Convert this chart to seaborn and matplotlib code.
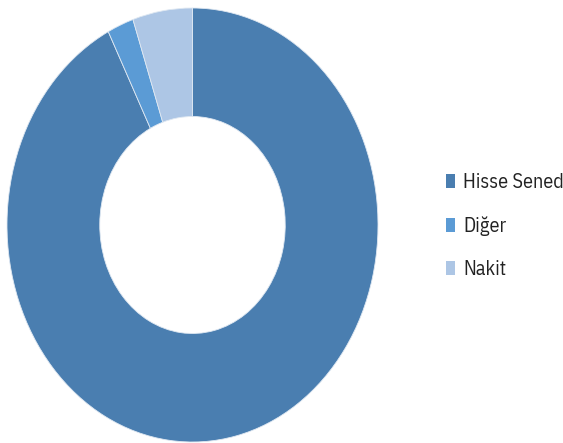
import matplotlib
matplotlib.use("Agg")
import matplotlib.pyplot as plt
import seaborn as sns
from matplotlib.patches import Patch

# portfolio split (percent)
labels = ["Hisse Sened", "Diğer", "Nakit"]
shares = [92.5, 2.3, 5.2]
colors = ["#4A7EB0", "#5B9BD5", "#ADC6E5"]

sns.set_theme(style="white")
plt.rcParams["font.family"] = ["IBM Plex Sans Condensed", "DejaVu Sans"]

fig = plt.figure(figsize=(5.63, 4.43), dpi=100)
# donut is drawn as a stretched ellipse, so give it its own box
ax = fig.add_axes([7 / 563, 1 / 443, 371 / 563, 434 / 443])

ax.pie(shares, colors=colors, startangle=90, counterclock=False,
       wedgeprops=dict(width=0.5, edgecolor="#dfe8f2", linewidth=0.6))
ax.set_aspect("auto")
ax.set_xlim(-1, 1)
ax.set_ylim(-1, 1)

handles = [Patch(facecolor=c, edgecolor="none") for c in colors]
fig.legend(handles, labels, loc="center left",
           bbox_to_anchor=(446 / 563, (443 - 226) / 443),
           frameon=False, fontsize=14.5, handlelength=0.45, handleheight=0.65,
           handletextpad=0.4, labelspacing=1.2, borderaxespad=0, borderpad=0,
           labelcolor="#222222")

fig.savefig("out.png", dpi=100)
